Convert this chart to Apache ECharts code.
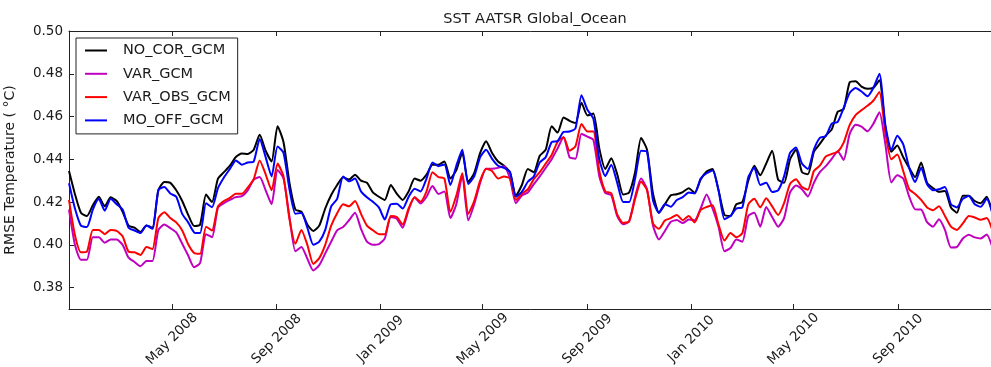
<!DOCTYPE html>
<html>
<head>
<meta charset="utf-8">
<script src="https://cdn.jsdelivr.net/npm/echarts@6/dist/echarts.min.js"></script>
<style>
  html, body { margin: 0; padding: 0; background: #fff; }
  #chart { width: 991px; height: 367px; }
</style>
</head>
<body>
<div id="chart"></div>
<script>
// Weekly RMSE of SST against AATSR, global ocean, 2008-2010
const seriesNames = ['NO_COR_GCM', 'VAR_GCM', 'VAR_OBS_GCM', 'MO_OFF_GCM'];
const seriesColors = ['#000000', '#bf00bf', '#ff0000', '#0000ff'];

// first sample date and sampling step (one value per week)
const firstSample = Date.UTC(2008, 0, 1);
const stepDays = 7;

const noCorGcm = [
  0.4345,0.4237,0.415,0.4135,0.4185,0.4225,0.418,0.4222,0.4205,0.4155,
  0.409,0.408,0.406,0.409,0.408,0.4255,0.4294,0.429,0.4255,0.4205,
  0.414,0.4088,0.4095,0.4235,0.42,0.431,0.434,0.437,0.4411,0.4427,
  0.4425,0.4445,0.4515,0.444,0.439,0.4555,0.448,0.429,0.4165,0.4155,
  0.4095,0.4065,0.409,0.417,0.4233,0.428,0.4316,0.4305,0.4328,0.43,
  0.429,0.4245,0.4225,0.421,0.428,0.4239,0.421,0.425,0.431,0.43,
  0.4328,0.4375,0.4375,0.439,0.431,0.435,0.443,0.4295,0.4335,0.443,
  0.4485,0.443,0.439,0.437,0.434,0.423,0.428,0.4355,0.434,0.4417,
  0.4445,0.4555,0.4525,0.4595,0.458,0.457,0.4665,0.4605,0.4614,0.445,
  0.4355,0.4405,0.433,0.4235,0.4245,0.434,0.45,0.4445,0.424,0.415,
  0.419,0.4232,0.4237,0.4247,0.4265,0.4243,0.4305,0.4343,0.4355,0.4255,
  0.414,0.4135,0.419,0.42,0.43,0.437,0.4325,0.438,0.444,0.4305,
  0.429,0.44,0.4445,0.434,0.433,0.4435,0.4472,0.4511,0.454,0.4622,
  0.4635,0.476,0.4765,0.474,0.473,0.4735,0.477,0.455,0.4435,0.4465,
  0.441,0.436,0.4317,0.4385,0.429,0.4265,0.4248,0.4252,0.4175,0.415,
  0.423,0.423,0.4205,0.4195,0.4225,0.4145
];

const varGcm = [
  0.4165,0.4,0.393,0.393,0.4035,0.4035,0.401,0.4025,0.4025,0.4,
  0.394,0.392,0.39,0.3925,0.3925,0.407,0.4095,0.4078,0.4058,0.4005,
  0.395,0.3895,0.3915,0.405,0.4036,0.4175,0.4195,0.421,0.4223,0.4228,
  0.4255,0.4305,0.4317,0.4255,0.419,0.435,0.431,0.413,0.397,0.399,
  0.3935,0.388,0.3905,0.396,0.4015,0.4068,0.4083,0.4115,0.415,0.4075,
  0.4015,0.4,0.4003,0.403,0.413,0.4122,0.408,0.4165,0.4222,0.4193,
  0.4225,0.4275,0.4238,0.425,0.4125,0.419,0.4325,0.4115,0.419,0.429,
  0.4356,0.4356,0.436,0.4368,0.431,0.4195,0.4231,0.4245,0.4284,0.432,
  0.436,0.44,0.4452,0.4503,0.441,0.4403,0.452,0.4506,0.449,0.432,
  0.4243,0.4233,0.4134,0.4096,0.411,0.4225,0.431,0.426,0.409,0.4025,
  0.4065,0.4108,0.4116,0.4102,0.4118,0.4115,0.417,0.4235,0.417,0.4085,
  0.397,0.3985,0.4025,0.4015,0.4135,0.415,0.4085,0.4177,0.413,0.4085,
  0.4125,0.4245,0.4278,0.426,0.4226,0.429,0.434,0.4368,0.4402,0.4438,
  0.4397,0.4518,0.4562,0.4553,0.4531,0.4567,0.462,0.447,0.4292,0.4325,
  0.431,0.4225,0.4166,0.4165,0.4106,0.4085,0.412,0.407,0.3988,0.399,
  0.403,0.4047,0.4035,0.403,0.4048,0.3985
];

const varObsGcm = [
  0.421,0.4045,0.3965,0.3968,0.407,0.407,0.405,0.407,0.4065,0.404,
  0.3968,0.3965,0.3953,0.399,0.398,0.4125,0.4153,0.4125,0.4105,0.4067,
  0.4003,0.3962,0.3958,0.4085,0.4067,0.418,0.4205,0.422,0.4239,0.4239,
  0.4268,0.4307,0.4395,0.433,0.4255,0.438,0.432,0.412,0.4005,0.407,
  0.4,0.3911,0.3938,0.4,0.409,0.4148,0.419,0.418,0.4205,0.4145,
  0.409,0.4068,0.405,0.405,0.4135,0.413,0.4095,0.417,0.4222,0.4202,
  0.425,0.434,0.4317,0.431,0.4155,0.423,0.4335,0.4145,0.4205,0.43,
  0.4356,0.4345,0.431,0.432,0.431,0.421,0.4239,0.426,0.4307,0.434,
  0.438,0.442,0.4482,0.4503,0.444,0.4462,0.4565,0.453,0.453,0.4345,
  0.425,0.4241,0.4142,0.4102,0.411,0.4215,0.4295,0.4255,0.41,0.4075,
  0.4114,0.4125,0.414,0.4115,0.4135,0.4105,0.4163,0.4177,0.4185,0.4095,
  0.402,0.4055,0.4035,0.4055,0.419,0.4215,0.4175,0.4218,0.418,0.414,
  0.4195,0.4285,0.4307,0.427,0.4258,0.4345,0.437,0.4413,0.4425,0.4435,
  0.4478,0.456,0.4607,0.463,0.465,0.4675,0.4715,0.4525,0.44,0.4422,
  0.4345,0.426,0.4238,0.421,0.4175,0.4162,0.418,0.4135,0.4085,0.407,
  0.41,0.4135,0.4128,0.4117,0.4125,0.4065
];

const moOffGcm = [
  0.4288,0.417,0.409,0.4083,0.4165,0.4215,0.416,0.4215,0.419,0.4165,
  0.408,0.4067,0.4055,0.409,0.4075,0.4258,0.427,0.424,0.4225,0.4145,
  0.4105,0.4058,0.4055,0.4195,0.4176,0.4265,0.4315,0.4355,0.4395,0.4375,
  0.4385,0.439,0.4495,0.441,0.432,0.446,0.443,0.426,0.4145,0.415,
  0.408,0.4,0.4015,0.407,0.418,0.4215,0.432,0.4297,0.431,0.425,
  0.4222,0.4201,0.4175,0.4118,0.419,0.4192,0.417,0.4225,0.4262,0.425,
  0.431,0.4385,0.4368,0.4376,0.428,0.437,0.4445,0.4285,0.432,0.441,
  0.4445,0.4402,0.437,0.436,0.434,0.4225,0.4248,0.4295,0.432,0.4385,
  0.441,0.448,0.4485,0.4528,0.453,0.4545,0.47,0.4632,0.459,0.44,
  0.4322,0.4375,0.429,0.42,0.42,0.431,0.444,0.4435,0.4208,0.415,
  0.419,0.4178,0.421,0.4223,0.4245,0.424,0.431,0.4335,0.4348,0.4255,
  0.412,0.4135,0.417,0.4175,0.4317,0.436,0.428,0.429,0.4247,0.4255,
  0.432,0.443,0.4455,0.438,0.4355,0.4445,0.45,0.4508,0.4567,0.4575,
  0.464,0.471,0.4733,0.4717,0.4695,0.4735,0.48,0.456,0.4444,0.451,
  0.447,0.436,0.4294,0.436,0.4283,0.4255,0.426,0.427,0.419,0.4175,
  0.4215,0.4228,0.419,0.4178,0.4215,0.4145
];

// date axis ticks and their labels
const xTickDates = ['2008-05-01','2008-09-01','2009-01-01','2009-05-01','2009-09-01',
                    '2010-01-01','2010-05-01','2010-09-01'];
const xTickLabels = ['May 2008','Sep 2008','Jan 2009','May 2009','Sep 2009',
                     'Jan 2010','May 2010','Sep 2010'];
const yTicks = [0.38, 0.40, 0.42, 0.44, 0.46, 0.48, 0.50];

const toUTC = s => { const p = s.split('-').map(Number); return Date.UTC(p[0], p[1] - 1, p[2]); };
const xTickValues = xTickDates.map(toUTC);
const labelByTime = {};
xTickValues.forEach((t, k) => { labelByTime[t] = xTickLabels[k]; });

const sampleTimes = noCorGcm.map((_, i) => firstSample + i * stepDays * 86400000);
const allValues = [noCorGcm, varGcm, varObsGcm, moOffGcm];

const FONT = 'DejaVu Sans';
const TEXT = '#1a1a1a';
const axisMin = Date.UTC(2008, 0, 1);
const axisMax = Date.UTC(2011, 0, 1);
// short horizontal stroke used as the legend key
const legendStroke = 'path://M0,0L22,0L22,2L0,2Z';

const chart = echarts.init(document.getElementById('chart'), null, { renderer: 'canvas' });
chart.setOption({
  animation: false,
  backgroundColor: '#ffffff',
  title: {
    text: 'SST AATSR Global_Ocean',
    left: 535,
    top: 12,
    padding: 0,
    textAlign: 'center',
    textStyle: { fontFamily: FONT, fontSize: 14.5, fontWeight: 'normal', color: TEXT }
  },
  legend: {
    orient: 'vertical',
    left: 76,
    top: 38,
    padding: [5, 7, 6, 9],
    itemWidth: 22,
    itemHeight: 14,
    itemGap: 8.3,
    backgroundColor: '#ffffff',
    borderColor: '#222',
    borderWidth: 1,
    borderRadius: 0,
    data: seriesNames.map(n => ({ name: n, icon: legendStroke })),
    textStyle: { fontFamily: FONT, fontSize: 14.5, color: TEXT, lineHeight: 14, padding: [0, 0, 0, 11] }
  },
  grid: { left: 69, top: 31, width: 933, height: 278, outerBoundsMode: 'none', containLabel: false },
  xAxis: [
    {
      type: 'value', min: axisMin, max: axisMax, position: 'bottom',
      axisLine: { lineStyle: { color: '#222', width: 1 } },
      axisTick: { inside: true, length: 5, customValues: xTickValues, lineStyle: { color: '#222' } },
      axisLabel: {
        customValues: xTickValues,
        rotate: 45, align: 'center', verticalAlign: 'middle', margin: 30,
        fontFamily: FONT, fontSize: 13.5, color: TEXT,
        formatter: v => labelByTime[v] || ''
      },
      splitLine: { show: false }
    },
    {
      type: 'value', min: axisMin, max: axisMax, position: 'top',
      axisLine: { lineStyle: { color: '#222', width: 1 } },
      axisTick: { inside: true, length: 5, customValues: xTickValues, lineStyle: { color: '#222' } },
      axisLabel: { show: false },
      splitLine: { show: false }
    }
  ],
  yAxis: {
    type: 'value', min: 0.37, max: 0.50,
    name: 'RMSE Temperature ( °C)',
    nameLocation: 'middle', nameGap: 52, nameRotate: 90,
    nameTextStyle: { fontFamily: FONT, fontSize: 14, color: TEXT },
    axisLine: { show: true, lineStyle: { color: '#222', width: 1 } },
    axisTick: { show: true, inside: true, length: 5, customValues: yTicks, lineStyle: { color: '#222' } },
    axisLabel: {
      customValues: yTicks, margin: 6,
      fontFamily: FONT, fontSize: 13.5, color: TEXT,
      formatter: v => v.toFixed(2)
    },
    splitLine: { show: false }
  },
  series: seriesNames.map((name, k) => ({
    name: name,
    type: 'line',
    xAxisIndex: 0,
    symbol: 'none',
    smooth: 0.2,
    clip: true,
    color: seriesColors[k],
    lineStyle: { color: seriesColors[k], width: 2 },
    data: allValues[k].map((v, i) => [sampleTimes[i], v])
  }))
});
</script>
</body>
</html>
